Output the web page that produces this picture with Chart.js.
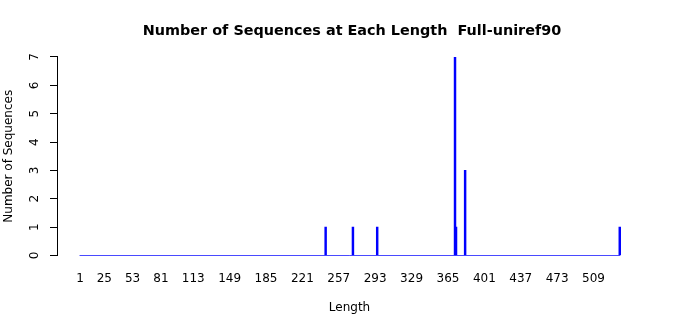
<!DOCTYPE html>
<html>
<head>
<meta charset="utf-8">
<script src="https://cdn.jsdelivr.net/npm/chart.js@4/dist/chart.umd.min.js"></script>
<style>
html,body{margin:0;padding:0;background:#fff;}
#wrap{width:700px;height:315px;}
</style>
</head>
<body>
<div id="wrap"><canvas id="c" width="700" height="315"></canvas></div>
<script>
// Data: sequence lengths observed and their counts
const lengths = [244, 271, 295, 372, 373, 382, 535];
const counts  = [1, 1, 1, 7, 1, 3, 1];
// Table range of lengths (1 .. max length)
const minLength = 1;
const maxLength = 535;
// Tick labels shown under the bars
const xTickLabels = [1, 25, 53, 81, 113, 149, 185, 221, 257, 293, 329, 365, 401, 437, 473, 509];
const yTickLabels = [0, 1, 2, 3, 4, 5, 6, 7];
// Axis ranges
const xAxisMin = -21.8;
const xAxisMax = 557;
const yAxisMin = 0;
const yAxisMax = 7;

const FONT = "'DejaVu Sans', sans-serif";
const BLUE = '#0000ff';
const BASE_BLUE = '#4a4aff';

const barData = lengths.map((l, i) => ({x: l, y: counts[i]}));
const baseData = [{x: minLength - 0.5, y: 0}, {x: maxLength + 0.5, y: 0}];

new Chart(document.getElementById('c'), {
  type: 'bar',
  data: {
    datasets: [
      {
        type: 'line',
        data: baseData,
        borderColor: BASE_BLUE,
        backgroundColor: BASE_BLUE,
        borderWidth: 1,
        pointRadius: 0,
        fill: false,
        clip: 5,
        order: 2
      },
      {
        type: 'bar',
        data: barData,
        backgroundColor: BLUE,
        borderWidth: 0,
        barThickness: 1.8,
        order: 1
      }
    ]
  },
  options: {
    responsive: false,
    animation: false,
    devicePixelRatio: 1,
    layout: {padding: {left: 4, right: 0, top: 0, bottom: 0}},
    plugins: {
      legend: {display: false},
      tooltip: {enabled: false},
      title: {
        display: true,
        text: 'Number of Sequences at Each Length  Full-uniref90',
        color: '#000',
        font: {family: FONT, size: 14.4, weight: 'bold', lineHeight: 1.2},
        padding: {top: 23, bottom: 16.7}
      }
    },
    scales: {
      x: {
        type: 'linear',
        offset: false,
        min: xAxisMin,
        max: xAxisMax,
        afterBuildTicks: (s) => { s.ticks = xTickLabels.map(v => ({value: v})); },
        afterFit: (s) => { s.height = 59.5; },
        grid: {display: false, drawTicks: false, offset: false},
        border: {display: false},
        ticks: {
          color: '#000',
          font: {family: FONT, size: 12},
          padding: 16.5,
          maxRotation: 0,
          autoSkip: false,
          callback: (v) => String(v)
        },
        title: {
          display: true,
          text: 'Length',
          color: '#000',
          font: {family: FONT, size: 12},
          padding: {top: 0, bottom: 0}
        }
      },
      y: {
        min: yAxisMin,
        max: yAxisMax,
        afterBuildTicks: (s) => { s.ticks = yTickLabels.map(v => ({value: v})); },
        afterFit: (s) => { s.width = 53; },
        grid: {display: true, drawOnChartArea: false, drawTicks: true, tickLength: 7, color: '#000', lineWidth: 1},
        border: {display: true, color: '#000', width: 1},
        ticks: {
          color: '#000',
          font: {family: FONT, size: 12},
          padding: 11,
          minRotation: 90,
          maxRotation: 90,
          crossAlign: 'center',
          callback: (v) => String(v)
        },
        title: {
          display: true,
          text: 'Number of Sequences',
          color: '#000',
          font: {family: FONT, size: 12},
          padding: {top: -2, bottom: 0}
        }
      },
      yRight: {
        position: 'right',
        display: true,
        afterFit: (s) => { s.width = 58; },
        grid: {display: false, drawTicks: false},
        border: {display: false},
        ticks: {display: false},
        title: {display: false}
      }
    }
  }
});
</script>
</body>
</html>
